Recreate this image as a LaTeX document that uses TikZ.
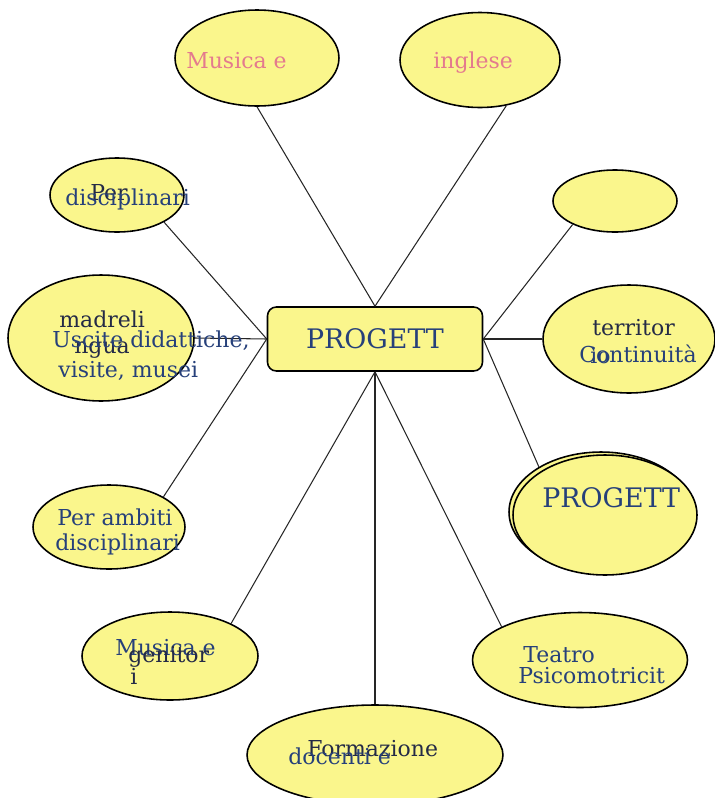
\documentclass[tikz,border=0pt]{standalone}
\usepackage{fontspec}
\setmainfont{DejaVu Serif}
\usetikzlibrary{shapes.geometric}
\definecolor{bolla}{RGB}{250,246,140}
\definecolor{blu}{RGB}{38,64,122}
\definecolor{scuro}{RGB}{36,42,70}
\definecolor{rosa}{RGB}{228,122,142}
\begin{document}
\begin{tikzpicture}[x=0.02cm,y=-0.02cm,
    ovale/.style={ellipse,draw,fill=bolla,line width=0.9pt,inner sep=0pt},
    filo/.style={line width=0.6pt,draw=black!85},
    scritta/.style={anchor=base west,inner sep=0pt,text=blu,font=\fontsize{12.5}{14.5}\selectfont},
    ombra/.style={scritta,text=scuro},
    rosata/.style={scritta,text=rosa}]
        \useasboundingbox (0,0) rectangle (715,798);

        \node[draw,fill=bolla,rounded corners=5pt,line width=0.9pt,minimum width=4.3cm,minimum height=1.28cm,text=blu,font=\fontsize{15.3}{17}\selectfont] (centro) at (375,339) {PROGETT};

        \node[ovale,minimum width=3.28cm,minimum height=1.92cm] (musica) at (257,58) {};
        \node[ovale,minimum width=3.2cm,minimum height=1.9cm] (inglese) at (480,60) {};
        \node[ovale,minimum width=2.68cm,minimum height=1.48cm] (perdisc) at (117,195) {};
        \node[ovale,minimum width=3.72cm,minimum height=2.52cm] (madre) at (101,338) {};
        \node[ovale,minimum width=3.04cm,minimum height=1.68cm] (ambiti) at (109,527) {};
        \node[ovale,minimum width=3.52cm,minimum height=1.76cm] (genitori) at (170,656) {};
        \node[ovale,minimum width=5.12cm,minimum height=2cm] (formaz) at (375,755) {};
        \node[ovale,minimum width=4.3cm,minimum height=1.9cm] (teatro) at (580,660) {};
        \node[ovale,minimum width=3.68cm,minimum height=2.4cm] (ombraprog) at (601,512) {};
        \node[ovale,minimum width=3.68cm,minimum height=2.4cm] (progr) at (605,515) {};
        \node[ovale,minimum width=3.44cm,minimum height=2.16cm] (contin) at (629,339) {};
        \node[ovale,minimum width=2.48cm,minimum height=1.24cm] (vuota) at (615,201) {};

        \draw[filo] (centro.north) -- (musica.south);
        \draw[filo] (centro.north) -- (inglese.-60);
        \draw[filo] (centro.west) -- (perdisc.-30);
        \draw[filo] (centro.west) -- (madre.east);
        \draw[filo] (centro.west) -- (ambiti.29);
        \draw[filo] (centro.south) -- (genitori.28);
        \draw[filo] (centro.south) -- (formaz.north);
        \draw[filo] (centro.south) -- (teatro.157);
        \draw[filo] (centro.east) -- (ombraprog.144);
        \draw[filo] (centro.east) -- (contin.west);
        \draw[filo] (centro.east) -- (vuota.-151);

        \node[rosata] (tmusica) at (186,68) {Musica e};
        \node[rosata] (tinglese) at (433,68) {inglese};

        \node[ombra] (tper) at (90,200) {Per};
        \node[scritta] (tdisc) at (65,205) {disciplinari};

        \node[ombra] (tmadre) at (59,327) {madreli};
        \node[ombra] (tngua) at (74,353) {ngua};
        \node[scritta] (tuscite) at (52,347) {Uscite didattiche,};
        \node[scritta] (tvisite) at (58,377) {visite, musei};

        \node[scritta] (tambiti) at (57,525) {Per ambiti};
        \node[scritta] (tambdisc) at (55,550) {disciplinari};

        \node[scritta] (tmusgen) at (115,655) {Musica e};
        \node[ombra] (tgenitor) at (128,662) {genitor};
        \node[ombra] (ti) at (130,684) {i};

        \node[ombra] (tformaz) at (307,756) {Formazione};
        \node[scritta] (tdocenti) at (288,764) {docenti e};

        \node[scritta] (tteatro) at (523,662) {Teatro};
        \node[scritta] (tpsico) at (518,683) {Psicomotricit};

        \node[ombra] (tterr) at (592,335) {territor};
        \node[scritta] (tcontin) at (579,362) {Continuità};
        \node[scritta] (tio) at (590,363) {io};

        \node[scritta,font=\fontsize{15.3}{17}\selectfont] (tprog) at (542,507) {PROGETT};
\end{tikzpicture}
\end{document}
